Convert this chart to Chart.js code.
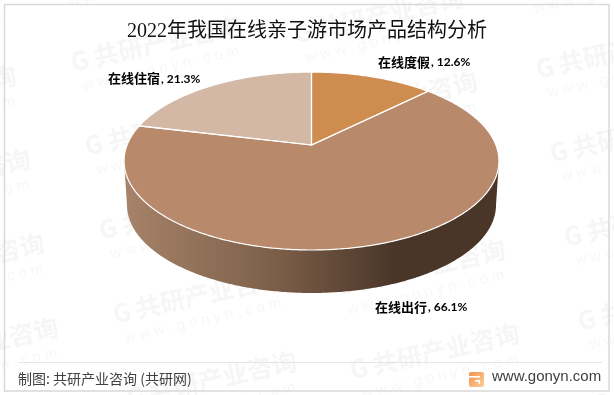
<!DOCTYPE html>
<html>
<head>
  <meta charset="UTF-8" />
  <title>2022年我国在线亲子游市场产品结构分析</title>
  <style>
    html, body { margin: 0; padding: 0; background: #fff; }
    canvas { display: block; }
  </style>
</head>
<body>
  <canvas id="pieChart" width="614" height="395"></canvas>

  <script src="https://cdn.jsdelivr.net/npm/chart.js"></script>
  <script>
    const categories = ["在线度假", "在线出行", "在线住宿"];
    const shares = [12.6, 66.1, 21.3];
    const sliceColors = ["#cf8c4f", "#b8896b", "#d3b8a5"];

    const chartTitle = "2022年我国在线亲子游市场产品结构分析";
    const sourceText = "制图: 共研产业咨询 (共研网)";
    const siteText = "www.gonyn.com";
    const markText = "共研产业咨询";
    const markSite = "w w w . g o n y n . c o m";

    const CJK = '"Noto Sans CJK SC"';

    // perspective of the disc: the top face and the smaller bottom face
    const tilt = 0.18;
    const topFace = { cx: 311.5, cy: 145, a: 184.4, b: 86.1 };
    const baseFace = { cx: 311.5, cy: 189.2, a: 181.5, b: 85.1 };

    function project(face, angle) {
      const s = Math.sin(angle);
      const w = 1 - tilt * s;
      return [face.cx + face.a * Math.cos(angle) / w, face.cy + face.b * s / w];
    }

    function traceRim(ctx, face, from, to, moveFirst) {
      const steps = Math.max(2, Math.ceil(Math.abs(to - from) / 0.01));
      for (let i = 0; i <= steps; i++) {
        const p = project(face, from + (to - from) * i / steps);
        if (i === 0 && moveFirst) ctx.moveTo(p[0], p[1]);
        else ctx.lineTo(p[0], p[1]);
      }
    }

    const backdrop = {
      id: "backdrop",
      beforeDraw(chart) {
        const ctx = chart.ctx;
        ctx.save();
        ctx.fillStyle = "#fff";
        ctx.fillRect(0, 0, 614, 395);

        // watermark columns
        const columns = [
          [-101, 362], [137, 396], [360, 368], [602, 403]
        ];
        ctx.textBaseline = "middle";
        columns.forEach(col => {
          for (let n = 0; n < 6; n++) {
            const x = col[0] - 14 * n;
            const y = col[1] - 84 * n;
            ctx.save();
            ctx.translate(x, y);
            ctx.rotate(-12.7 * Math.PI / 180);
            ctx.fillStyle = "#f6f6f6";
            ctx.font = `bold 25px ${CJK}`;
            ctx.fillText("G", -10, 0);
            ctx.fillText(markText, 13, 0);
            ctx.font = "15px 'Liberation Sans'";
            ctx.fillStyle = "#f7f7f7";
            ctx.fillText(markSite, -4, 26);
            ctx.restore();
          }
        });

        // frame and footer rule
        ctx.strokeStyle = "#d9d9d9";
        ctx.lineWidth = 1.5;
        ctx.strokeRect(4.5, 4.5, 604.5, 386.5);
        ctx.strokeStyle = "#e6e6e6";
        ctx.lineWidth = 1;
        ctx.beginPath();
        ctx.moveTo(18, 362.5);
        ctx.lineTo(602, 362.5);
        ctx.stroke();

        // footer
        ctx.fillStyle = "#404040";
        ctx.textBaseline = "middle";
        ctx.font = `14px ${CJK}`;
        ctx.fillText(sourceText, 18, 379);
        ctx.font = "15px 'Liberation Sans'";
        ctx.fillText(siteText, 492, 377);

        // logo
        const g = ctx.createLinearGradient(469, 372, 484, 386);
        g.addColorStop(0, "#f58f4e");
        g.addColorStop(1, "#f8cf96");
        ctx.fillStyle = g;
        ctx.beginPath();
        ctx.roundRect(469, 372, 15, 15, 2);
        ctx.fill();
        ctx.fillStyle = "#fff";
        ctx.fillRect(469, 376, 11, 1.6);
        ctx.fillRect(475, 380, 5, 1.6);
        ctx.fillRect(478.5, 380, 1.6, 4);
        ctx.restore();
      }
    };

    const tiltedPie = {
      id: "tiltedPie",
      // replaces the flat arc drawing, the angles still come from the library
      beforeDatasetDraw(chart) {
        const ctx = chart.ctx;
        const arcs = chart.getDatasetMeta(0).data;

        // side wall of the biggest slice, between the widest points of the rim
        const big = arcs[shares.indexOf(Math.max(...shares))];
        const widest = Math.asin(tilt);
        const from = Math.max(big.startAngle, widest);
        const to = Math.min(big.endAngle, Math.PI - widest);
        const wall = ctx.createLinearGradient(124, 0, 499, 0);
        wall.addColorStop(0, "#a68369");
        wall.addColorStop(0.4, "#7d5f49");
        wall.addColorStop(0.72, "#4a3629");
        wall.addColorStop(1, "#4a3629");
        ctx.save();
        ctx.fillStyle = wall;
        ctx.beginPath();
        traceRim(ctx, topFace, from, to, true);
        traceRim(ctx, baseFace, to, from, false);
        ctx.closePath();
        ctx.fill();

        // top face
        arcs.forEach((arc, i) => {
          ctx.beginPath();
          ctx.moveTo(topFace.cx, topFace.cy);
          traceRim(ctx, topFace, arc.startAngle, arc.endAngle, false);
          ctx.closePath();
          ctx.fillStyle = sliceColors[i];
          ctx.fill();
        });
        ctx.strokeStyle = "#fff";
        ctx.lineWidth = 1.2;
        arcs.forEach(arc => {
          ctx.beginPath();
          ctx.moveTo(topFace.cx, topFace.cy);
          traceRim(ctx, topFace, arc.startAngle, arc.endAngle, false);
          ctx.closePath();
          ctx.stroke();
        });
        ctx.restore();
        return false;
      },
      afterDatasetsDraw(chart) {
        const ctx = chart.ctx;
        const spots = [[378, 62], [375, 307], [108, 78.5]];
        ctx.save();
        ctx.fillStyle = "#000";
        ctx.textBaseline = "middle";
        categories.forEach((name, i) => {
          ctx.font = `bold 13px ${CJK}`;
          ctx.fillText(name, spots[i][0], spots[i][1]);
          const w = ctx.measureText(name).width;
          ctx.font = "bold 12px Lato";
          ctx.fillText(`, ${shares[i].toFixed(1)}%`, spots[i][0] + w + 1, spots[i][1] + 0.5);
        });
        ctx.restore();
      }
    };

    new Chart(document.getElementById("pieChart"), {
      type: "pie",
      data: {
        labels: categories,
        datasets: [{ data: shares, backgroundColor: sliceColors, borderWidth: 0 }]
      },
      options: {
        responsive: false,
        animation: false,
        events: [],
        plugins: {
          legend: { display: false },
          tooltip: { enabled: false },
          title: {
            display: true,
            text: chartTitle,
            color: "#111",
            font: { family: `'Liberation Serif', ${CJK}`, size: 20, weight: "normal" },
            padding: { top: 20, bottom: 4 }
          }
        }
      },
      plugins: [backdrop, tiltedPie]
    });
  </script>
</body>
</html>
